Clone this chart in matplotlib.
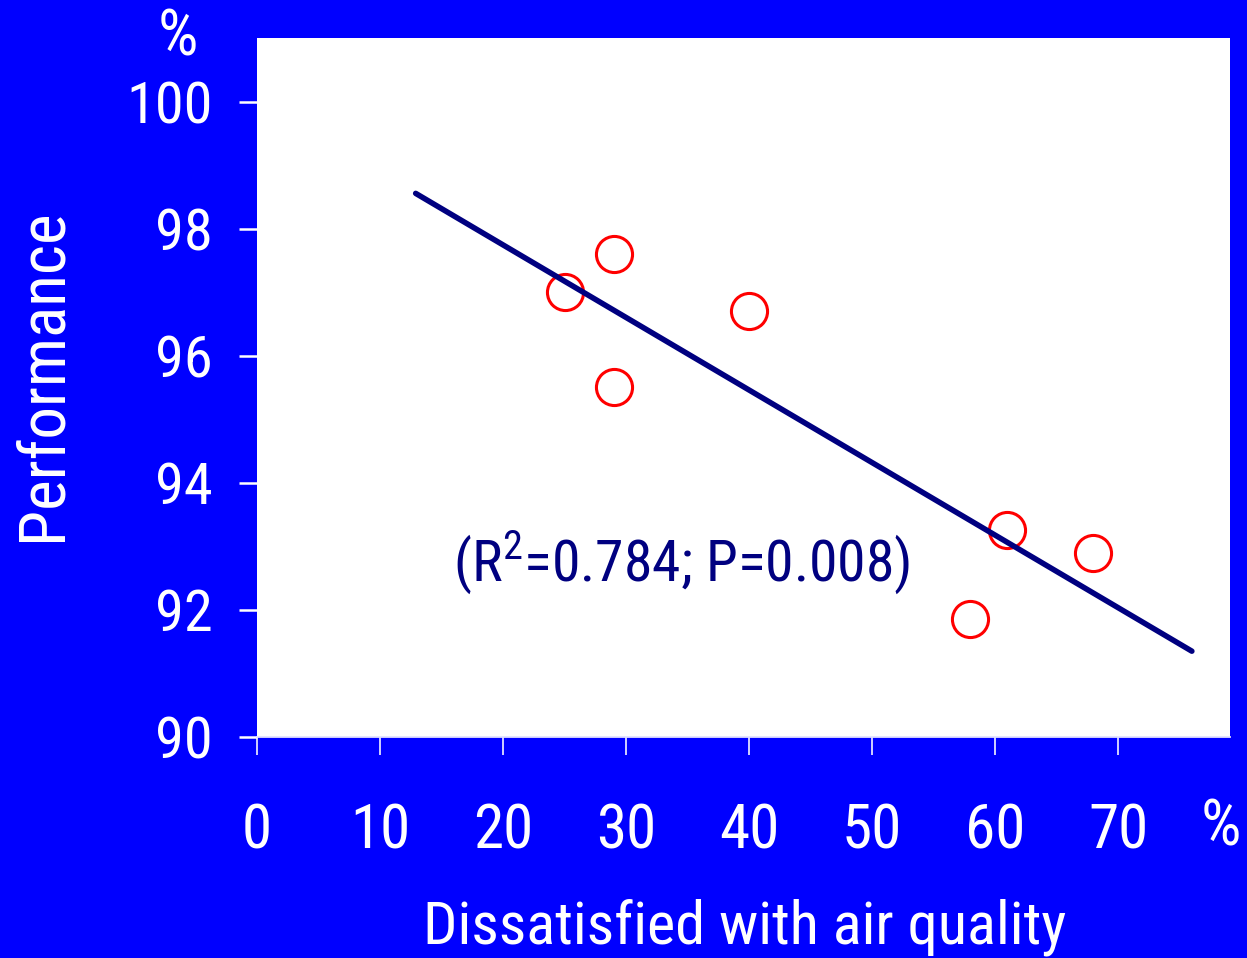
import matplotlib
matplotlib.use("Agg")
import matplotlib.pyplot as plt
from matplotlib import font_manager
import numpy as np

names = {f.name for f in font_manager.fontManager.ttflist}
FONT = next((n for n in ["Liberation Sans Narrow", "Arial Narrow", "Roboto Condensed",
                         "Archivo Narrow", "Barlow Semi Condensed"] if n in names),
            "Liberation Sans")
plt.rcParams["font.family"] = [FONT, "DejaVu Sans"]
plt.rcParams["mathtext.fontset"] = "custom"
plt.rcParams["mathtext.rm"] = FONT

BG, NAVY, RED, TICK = "#0000FF", "#000080", "#FF0000", "#E0E0FF"

# data
dissatisfied = [25, 29, 29, 40, 58, 61, 68]
performance = [97.0, 97.6, 95.5, 96.7, 91.85, 93.25, 92.9]
fit_range = [12.9, 76.0]
xticks = [0, 10, 20, 30, 40, 50, 60, 70]
yticks = [90, 92, 94, 96, 98, 100]

fig = plt.figure(figsize=(12.47, 9.58), dpi=100, facecolor=BG)
ax = fig.add_axes([257/1247, 1-737/958, 973/1247, 699/958])
ax.set_facecolor("white")

slope, icpt = np.polyfit(dissatisfied, performance, 1)
xf = np.array(fit_range)
ax.plot(xf, slope*xf + icpt, color=NAVY, lw=4.0, solid_capstyle="round", zorder=3)
ax.plot(dissatisfied, performance, "o", ms=26, mfc="none", mec=RED, mew=2.2, zorder=2)

ax.set_xlim(0, 79.1)
ax.set_ylim(90, 101.0)
ax.set_xticks(xticks)
ax.set_yticks(yticks)
ax.tick_params(axis="x", length=13, width=1.3, color=TICK, pad=34,
               labelsize=44, labelcolor="white")
ax.tick_params(axis="y", length=13, width=1.8, color="white", pad=19,
               labelsize=42, labelcolor="white")
for s in ["top", "right", "left"]:
    ax.spines[s].set_visible(False)
ax.spines["bottom"].set_color(TICK)
ax.spines["bottom"].set_linewidth(1.3)

ax.text(15.9, 92.44, r"(R$^{\mathregular{2}}$=0.784; P=0.008)", color=NAVY,
        fontsize=41.5, ha="left", va="baseline")

fig.text(178/1247, 1-37/958, "%", color="white", fontsize=46, ha="center", va="center")
fig.text(1221/1247, 1-828/958, "%", color="white", fontsize=46, ha="center", va="center")
fig.text(43/1247, 1-375/958, "Performance", color="white", fontsize=47,
         rotation=90, ha="center", va="center")
fig.text(745/1247, 1-943/958, "Dissatisfied with air quality", color="white",
         fontsize=43.5, ha="center", va="baseline")

fig.savefig("out.png", dpi=100, facecolor=BG)
